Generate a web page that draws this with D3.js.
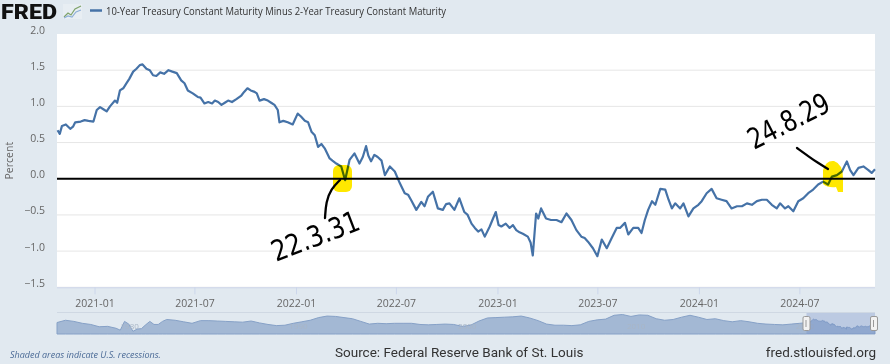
<!DOCTYPE html>
<html>
<head>
<meta charset="utf-8">
<script src="https://cdn.jsdelivr.net/npm/d3@7"></script>
<style>
  body { margin: 0; background: #e1e9f0; }
  svg { display: block; font-family: "Open Sans", sans-serif; }
</style>
</head>
<body>
<div id="chart"></div>
<script>
/* FRED T10Y2Y chart */

const width = 890;
const height = 364;

const seriesName = "10-Year Treasury Constant Maturity Minus 2-Year Treasury Constant Maturity";
const yTicks = [2.0, 1.5, 1.0, 0.5, 0.0, -0.5, -1.0, -1.5];
const xTicks = ["2021-01", "2021-07", "2022-01", "2022-07", "2023-01", "2023-07", "2024-01", "2024-07"];

// main series
const seriesDates = [
  "2020-10-26","2020-10-30","2020-11-03","2020-11-10","2020-11-18","2020-11-23","2020-11-27","2020-12-07",
  "2020-12-14","2020-12-21","2020-12-30","2021-01-05","2021-01-11","2021-01-17","2021-01-23","2021-01-29",
  "2021-02-07","2021-02-11","2021-02-16","2021-02-22","2021-02-28","2021-03-05","2021-03-12","2021-03-18",
  "2021-03-24","2021-03-29","2021-04-05","2021-04-11","2021-04-17","2021-04-23","2021-04-30","2021-05-07",
  "2021-05-15","2021-05-22","2021-05-30","2021-06-07","2021-06-13","2021-06-19","2021-06-28","2021-07-07",
  "2021-07-12","2021-07-19","2021-07-26","2021-08-02","2021-08-07","2021-08-13","2021-08-19","2021-08-25",
  "2021-08-31","2021-09-07","2021-09-15","2021-09-24","2021-09-29","2021-10-05","2021-10-11","2021-10-18",
  "2021-10-22","2021-10-27","2021-11-04","2021-11-11","2021-11-17","2021-11-23","2021-11-29","2021-12-02",
  "2021-12-09","2021-12-17","2021-12-26","2022-01-04","2022-01-10","2022-01-17","2022-01-23","2022-01-29",
  "2022-02-04","2022-02-10","2022-02-16","2022-02-22","2022-03-03","2022-03-08","2022-03-15","2022-03-24",
  "2022-03-31","2022-04-08","2022-04-17","2022-04-26","2022-05-02","2022-05-08","2022-05-12","2022-05-17",
  "2022-05-23","2022-05-29","2022-06-05","2022-06-11","2022-06-20","2022-06-29","2022-07-08","2022-07-17",
  "2022-07-23","2022-07-29","2022-08-07","2022-08-16","2022-08-22","2022-08-28","2022-09-06","2022-09-15",
  "2022-09-24","2022-09-30","2022-10-06","2022-10-15","2022-10-24","2022-11-02","2022-11-08","2022-11-15",
  "2022-11-21","2022-11-27","2022-12-03","2022-12-09","2022-12-18","2022-12-24","2022-12-29","2023-01-03",
  "2023-01-08","2023-01-16","2023-01-23","2023-01-29","2023-02-04","2023-02-10","2023-02-16","2023-02-25",
  "2023-03-02","2023-03-06","2023-03-12","2023-03-16","2023-03-21","2023-03-30","2023-04-08","2023-04-18",
  "2023-04-27","2023-05-06","2023-05-15","2023-05-24","2023-06-02","2023-06-08","2023-06-14","2023-06-23",
  "2023-07-01","2023-07-09","2023-07-18","2023-07-27","2023-08-05","2023-08-11","2023-08-20","2023-08-26",
  "2023-09-04","2023-09-13","2023-09-19","2023-09-25","2023-10-01","2023-10-08","2023-10-14","2023-10-23",
  "2023-11-01","2023-11-07","2023-11-13","2023-11-19","2023-11-28","2023-12-04","2023-12-13","2023-12-22",
  "2023-12-31","2024-01-06","2024-01-15","2024-01-24","2024-02-02","2024-02-11","2024-02-20","2024-02-29",
  "2024-03-10","2024-03-19","2024-03-28","2024-04-06","2024-04-15","2024-04-24","2024-05-03","2024-05-12",
  "2024-05-21","2024-05-27","2024-06-05","2024-06-11","2024-06-20","2024-06-29","2024-07-08","2024-07-17",
  "2024-07-26","2024-08-04","2024-08-13","2024-08-22","2024-08-29","2024-09-07","2024-09-16","2024-09-25",
  "2024-10-01","2024-10-07","2024-10-16","2024-10-25","2024-11-03","2024-11-09","2024-11-15"
];
const seriesValues = [
  0.67, 0.62, 0.73, 0.75, 0.69, 0.72, 0.78, 0.79,
  0.81, 0.80, 0.79, 0.95, 0.99, 0.96, 0.93, 1.00,
  1.08, 1.05, 1.22, 1.25, 1.32, 1.38, 1.48, 1.52,
  1.57, 1.58, 1.52, 1.50, 1.43, 1.42, 1.47, 1.45,
  1.50, 1.48, 1.46, 1.36, 1.32, 1.22, 1.18, 1.13,
  1.12, 1.04, 1.06, 1.04, 1.08, 1.06, 1.02, 1.05,
  1.08, 1.06, 1.10, 1.15, 1.20, 1.25, 1.22, 1.20,
  1.18, 1.08, 1.10, 1.08, 1.05, 1.02, 0.95, 0.78,
  0.80, 0.78, 0.75, 0.90, 0.86, 0.80, 0.78, 0.65,
  0.60, 0.44, 0.48, 0.42, 0.28, 0.25, 0.21, 0.17,
  -0.02, 0.26, 0.35, 0.21, 0.30, 0.45, 0.32, 0.24,
  0.33, 0.30, 0.25, 0.05, 0.17, 0.10, -0.06, -0.20,
  -0.22, -0.30, -0.43, -0.32, -0.38, -0.25, -0.18, -0.41,
  -0.43, -0.35, -0.34, -0.43, -0.27, -0.46, -0.50, -0.62,
  -0.68, -0.73, -0.70, -0.80, -0.66, -0.55, -0.46, -0.64,
  -0.66, -0.62, -0.68, -0.64, -0.71, -0.74, -0.76, -0.80,
  -0.88, -1.06, -0.48, -0.55, -0.41, -0.55, -0.57, -0.57,
  -0.60, -0.48, -0.57, -0.71, -0.80, -0.82, -0.87, -0.96,
  -1.07, -0.84, -0.96, -0.82, -0.68, -0.68, -0.61, -0.77,
  -0.68, -0.68, -0.75, -0.57, -0.43, -0.31, -0.36, -0.14,
  -0.15, -0.29, -0.41, -0.34, -0.41, -0.34, -0.52, -0.41,
  -0.36, -0.31, -0.20, -0.14, -0.27, -0.29, -0.31, -0.41,
  -0.38, -0.38, -0.34, -0.36, -0.31, -0.29, -0.29, -0.36,
  -0.41, -0.34, -0.41, -0.38, -0.45, -0.31, -0.27, -0.20,
  -0.15, -0.08, -0.04, -0.08, 0.03, 0.05, 0.10, 0.24,
  0.12, 0.05, 0.15, 0.17, 0.12, 0.08, 0.13
];

// navigator history (before the main window)
const navDates = [
  "1976-06","1976-12","1977-06","1977-12","1978-06","1978-12","1979-06","1979-12",
  "1980-03","1980-06","1980-09","1980-12","1981-03","1981-06","1981-09","1981-12",
  "1982-03","1982-06","1982-09","1982-12","1983-06","1983-12","1984-06","1984-12",
  "1985-06","1985-12","1986-06","1986-12","1987-06","1987-12","1988-06","1988-12",
  "1989-06","1989-12","1990-06","1990-12","1991-06","1991-12","1992-06","1992-12",
  "1993-06","1993-12","1994-06","1994-12","1995-06","1995-12","1996-06","1996-12",
  "1997-06","1997-12","1998-06","1998-12","1999-06","1999-12","2000-06","2000-12",
  "2001-06","2001-12","2002-06","2002-12","2003-06","2003-12","2004-06","2004-12",
  "2005-06","2005-12","2006-06","2006-12","2007-06","2007-12","2008-06","2008-12",
  "2009-06","2009-12","2010-06","2010-12","2011-06","2011-12","2012-06","2012-12",
  "2013-06","2013-12","2014-06","2014-12","2015-06","2015-12","2016-06","2016-12",
  "2017-06","2017-12","2018-06","2018-12","2019-06","2019-12","2020-06"
];
const navValues = [
  0.7, 1.3, 1.0, 0.5, 0.2, -0.4, -0.3, -0.8,
  -1.3, 1.0, 0.3, -1.6, -1.0, -0.9, 0.1, 1.0,
  0.2, 0.2, 1.0, 1.5, 1.3, 0.9, 0.5, 1.2,
  1.2, 1.1, 1.0, 0.9, 0.8, 1.1, 0.6, 0.2,
  -0.1, 0.0, 0.5, 0.9, 1.3, 2.0, 2.4, 2.3,
  2.0, 1.7, 1.0, 0.3, 0.5, 0.4, 0.5, 0.5,
  0.5, 0.2, 0.1, 0.2, 0.3, 0.2, -0.3, 0.0,
  1.1, 1.9, 2.0, 2.1, 2.2, 2.4, 1.9, 1.2,
  0.3, 0.0, 0.0, -0.1, 0.1, 1.0, 1.4, 1.6,
  2.6, 2.8, 2.3, 2.7, 2.6, 1.7, 1.3, 1.5,
  2.1, 2.6, 2.1, 1.5, 1.7, 1.2, 0.9, 1.2,
  0.9, 0.5, 0.3, 0.2, 0.1, 0.3, 0.5
];
const navYears = ["1980", "1990", "2000", "2010", "2020"];

const parseDay = d3.timeParse("%Y-%m-%d");
const parseMonth = d3.timeParse("%Y-%m");

const data = seriesDates.map((d, i) => ({ date: parseDay(d), v: seriesValues[i] }));
const navData = navDates.map((d, i) => ({ date: parseMonth(d), v: navValues[i] })).concat(data);

const plot = { left: 57, right: 875, top: 34, bottom: 287.3 };
const nav = { top: 313, bottom: 334 };

const svg = d3.select("#chart").append("svg")
  .attr("width", width)
  .attr("height", height);

const x = d3.scaleTime()
  .domain([parseDay("2020-10-25"), parseDay("2024-11-15")])
  .range([plot.left, plot.right]);

const y = d3.scaleLinear()
  .domain([-1.5, 2.0])
  .range([plot.bottom, plot.top]);

/************************************************
 * Header: logo + legend                        *
 ************************************************/
svg.append("text")
  .attr("x", 1).attr("y", 19)
  .attr("font-family", "Roboto, sans-serif")
  .attr("font-weight", 900)
  .attr("font-size", 20)
  .attr("fill", "#111")
  .attr("textLength", 56)
  .attr("lengthAdjust", "spacingAndGlyphs")
  .text("FRED");

// little logo chart
const logo = svg.append("g").attr("transform", "translate(63,4)");
logo.append("rect").attr("width", 19).attr("height", 15).attr("fill", "#e8eef3");
logo.append("polyline").attr("points", "1,13 5,9 8,11 12,5 18,2")
  .attr("fill", "none").attr("stroke", "#7fa36b").attr("stroke-width", 1.2);
logo.append("polyline").attr("points", "1,14 5,12 9,13 13,8 18,6")
  .attr("fill", "none").attr("stroke", "#8fb0d8").attr("stroke-width", 1.2);

svg.append("line")
  .attr("x1", 90).attr("x2", 102).attr("y1", 10.5).attr("y2", 10.5)
  .attr("stroke", "#4572a7").attr("stroke-width", 2.5);

svg.append("text")
  .attr("x", 106).attr("y", 14.5)
  .attr("font-size", 10)
  .attr("fill", "#333")
  .attr("textLength", 340)
  .attr("lengthAdjust", "spacingAndGlyphs")
  .text(seriesName);

/************************************************
 * Plot area                                    *
 ************************************************/
svg.append("rect")
  .attr("x", plot.left).attr("y", plot.top)
  .attr("width", plot.right - plot.left)
  .attr("height", plot.bottom - plot.top)
  .attr("fill", "#fff");

// gridlines
svg.append("g")
  .selectAll("line")
  .data(yTicks.filter(t => t !== 0 && t !== 2.0))
  .join("line")
  .attr("x1", plot.left).attr("x2", plot.right)
  .attr("y1", d => y(d)).attr("y2", d => y(d))
  .attr("stroke", "#e6e6e6")
  .attr("stroke-width", 1);

// y labels
svg.append("g")
  .selectAll("text")
  .data(yTicks)
  .join("text")
  .attr("x", 45)
  .attr("y", d => y(d) - 0.5)
  .attr("text-anchor", "end")
  .attr("font-size", 10.5)
  .attr("fill", "#666")
  .text(d => d3.format(".1f")(d));

svg.append("text")
  .attr("transform", `translate(13,${(plot.top + plot.bottom) / 2}) rotate(-90)`)
  .attr("text-anchor", "middle")
  .attr("font-size", 10.5)
  .attr("fill", "#666")
  .text("Percent");

// x axis
const xAxisG = svg.append("g")
  .attr("transform", `translate(0,${plot.bottom})`)
  .call(d3.axisBottom(x)
    .tickValues(xTicks.map(parseMonth))
    .tickFormat(d3.timeFormat("%Y-%m"))
    .tickSize(7)
    .tickPadding(5));
xAxisG.select(".domain").attr("stroke", "#ccd6eb").attr("d", `M${plot.left},0.5H${plot.right}`);
xAxisG.selectAll(".tick line").attr("stroke", "#ccd6eb");
xAxisG.selectAll(".tick text")
  .attr("font-family", "Open Sans, sans-serif")
  .attr("font-size", 10.5)
  .attr("fill", "#666");

// series line
const line = d3.line()
  .x(d => x(d.date))
  .y(d => y(d.v));

svg.append("path")
  .datum(data)
  .attr("d", line)
  .attr("fill", "none")
  .attr("stroke", "#4572a7")
  .attr("stroke-width", 2.2)
  .attr("stroke-linejoin", "round");

// zero line
svg.append("line")
  .attr("x1", plot.left).attr("x2", plot.right)
  .attr("y1", y(0)).attr("y2", y(0))
  .attr("stroke", "#000")
  .attr("stroke-width", 1.8);

/************************************************
 * Hand-drawn annotations                       *
 ************************************************/
const marks = svg.append("g");

marks.append("rect")
  .attr("x", 333).attr("y", 165).attr("width", 19).attr("height", 27).attr("rx", 6)
  .attr("fill", "#ffe800").style("mix-blend-mode", "multiply");

marks.append("path")
  .attr("d", "M823,170 Q826,160 834,161 Q843,164 843,178 L843,192 L838,192 L836,187 Q828,188 823,184 Z")
  .attr("fill", "#ffe800").style("mix-blend-mode", "multiply");

const pen = d3.line().curve(d3.curveBasis);
marks.append("path")
  .attr("d", pen([[340, 180], [331, 189], [326, 202], [325, 218]]))
  .attr("fill", "none").attr("stroke", "#000").attr("stroke-width", 2.3)
  .attr("stroke-linecap", "round");
marks.append("path")
  .attr("d", pen([[797, 148], [808, 156], [818, 163], [828, 169]]))
  .attr("fill", "none").attr("stroke", "#000").attr("stroke-width", 2.3)
  .attr("stroke-linecap", "round");

marks.append("text")
  .attr("transform", "translate(276,262) rotate(-21)")
  .attr("font-family", "Liberation Sans Narrow, DejaVu Sans, sans-serif")
  .attr("font-size", 29)
  .attr("fill", "#000")
  .attr("textLength", 92).attr("lengthAdjust", "spacingAndGlyphs")
  .text("22.3.31");

marks.append("text")
  .attr("transform", "translate(754,150) rotate(-27)")
  .attr("font-family", "Liberation Sans Narrow, DejaVu Sans, sans-serif")
  .attr("font-size", 29)
  .attr("fill", "#000")
  .attr("textLength", 88).attr("lengthAdjust", "spacingAndGlyphs")
  .text("24.8.29");

/************************************************
 * Navigator                                    *
 ************************************************/
const xn = d3.scaleTime()
  .domain([parseMonth("1976-06"), parseDay("2024-11-15")])
  .range([plot.left, plot.right]);
const yn = d3.scaleLinear()
  .domain([-2.3, 3.2])
  .range([nav.bottom, nav.top]);

svg.append("line")
  .attr("x1", plot.left).attr("x2", plot.right)
  .attr("y1", nav.top - 0.5).attr("y2", nav.top - 0.5)
  .attr("stroke", "#cfd8e3");

const area = d3.area()
  .x(d => xn(d.date))
  .y0(nav.bottom)
  .y1(d => yn(d.v));

svg.append("path")
  .datum(navData)
  .attr("d", area)
  .attr("fill", "#a3b8d4")
  .attr("stroke", "#86a1c7")
  .attr("stroke-width", 1);

svg.append("g")
  .selectAll("text")
  .data(navYears)
  .join("text")
  .attr("x", d => xn(parseMonth(d + "-01")) + 3)
  .attr("y", nav.bottom - 5)
  .attr("font-size", 8)
  .attr("fill", "#a9b6c6")
  .text(d => d);

const selX0 = xn(x.domain()[0]);
svg.append("rect")
  .attr("x", selX0).attr("y", nav.top)
  .attr("width", plot.right - selX0).attr("height", nav.bottom - nav.top)
  .attr("fill", "rgba(102,133,194,0.3)");

[selX0, plot.right - 1].forEach(hx => {
  svg.append("rect")
    .attr("x", hx - 3.5).attr("y", (nav.top + nav.bottom) / 2 - 7)
    .attr("width", 7).attr("height", 14).attr("rx", 1.5)
    .attr("fill", "#f2f2f2").attr("stroke", "#999");
  svg.append("line")
    .attr("x1", hx - 0.5).attr("x2", hx - 0.5)
    .attr("y1", (nav.top + nav.bottom) / 2 - 3.5).attr("y2", (nav.top + nav.bottom) / 2 + 3.5)
    .attr("stroke", "#999");
});

/************************************************
 * Footer                                       *
 ************************************************/
svg.append("text")
  .attr("x", 10).attr("y", 358)
  .attr("font-size", 9)
  .attr("font-style", "italic")
  .attr("fill", "#4a6a96")
  .text("Shaded areas indicate U.S. recessions.");

svg.append("text")
  .attr("x", 335).attr("y", 357)
  .attr("font-family", "Liberation Sans Narrow, Roboto, sans-serif")
  .attr("font-size", 13.5)
  .attr("fill", "#333")
  .text("Source: Federal Reserve Bank of St. Louis");

svg.append("text")
  .attr("x", 876).attr("y", 357)
  .attr("text-anchor", "end")
  .attr("font-family", "Liberation Sans Narrow, Roboto, sans-serif")
  .attr("font-size", 13.5)
  .attr("fill", "#333")
  .text("fred.stlouisfed.org");
</script>
</body>
</html>
